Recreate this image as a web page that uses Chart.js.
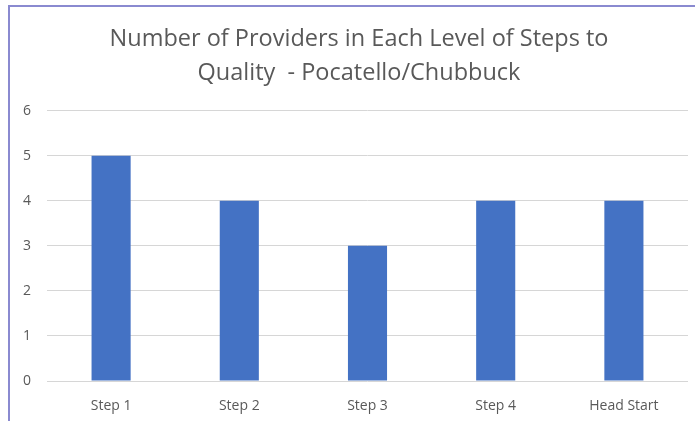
<!DOCTYPE html>
<html>
<head>
<meta charset="utf-8">
<script src="https://cdn.jsdelivr.net/npm/chart.js@4"></script>
<style>
  html, body { margin: 0; padding: 0; background: #fff; }
  #wrap { position: relative; width: 695px; height: 421px; }
  #frame {
    position: absolute; left: 8px; top: 5px; right: 0; bottom: 0;
    border-left: 2px solid #8a8ad0; border-top: 2px solid #8a8ad0;
    pointer-events: none;
  }
  canvas { position: absolute; left: 0; top: 0; }
</style>
</head>
<body>
<div id="wrap">
  <canvas id="mainChart" width="695" height="421"></canvas>
  <div id="frame"></div>
</div>
<script>
// Données
const categories = ['Step 1', 'Step 2', 'Step 3', 'Step 4', 'Head Start'];
const providerCounts = [5, 4, 3, 4, 4];
const titleLines = ['Number of Providers in Each Level of Steps to', 'Quality  - Pocatello/Chubbuck'];

const textColor = '#595959';
const fontFamily = "'Open Sans', 'Noto Sans', sans-serif";

// décale le titre vers la droite, comme dans l'original
const titleShiftPlugin = {
    id: 'titleShift',
    afterLayout(chart) {
        if (chart.titleBlock) chart.titleBlock.left += 30;
    }
};

const ctx = document.getElementById('mainChart').getContext('2d');
const chart = new Chart(ctx, {
    type: 'bar',
    data: {
        labels: categories,
        datasets: [{
            data: providerCounts,
            backgroundColor: '#4472c4',
            borderWidth: 0,
            categoryPercentage: 1,
            barPercentage: 0.305
        }]
    },
    options: {
        responsive: false,
        animation: false,
        layout: { padding: { left: 0, right: 7, top: 0, bottom: 0 } },
        plugins: {
            legend: { display: false },
            tooltip: { enabled: false },
            title: {
                display: true,
                text: titleLines,
                color: textColor,
                font: { family: fontFamily, size: 23.5, weight: 'normal', lineHeight: 1.42 },
                padding: { top: 23, bottom: 21 }
            }
        },
        scales: {
            x: {
                grid: { display: false, drawTicks: false },
                border: { display: false },
                ticks: {
                    color: textColor,
                    padding: 17,
                    font: { family: fontFamily, size: 14 }
                },
                afterFit: (s) => { s.height = 40; }
            },
            y: {
                min: 0,
                max: 6,
                grid: { color: '#d6d6d6', drawTicks: false, lineWidth: 1 },
                border: { display: false },
                ticks: {
                    stepSize: 1,
                    color: textColor,
                    padding: 16,
                    font: { family: fontFamily, size: 14 }
                },
                afterFit: (s) => { s.width = 47; }
            }
        }
    },
    plugins: [titleShiftPlugin]
});
</script>
</body>
</html>
